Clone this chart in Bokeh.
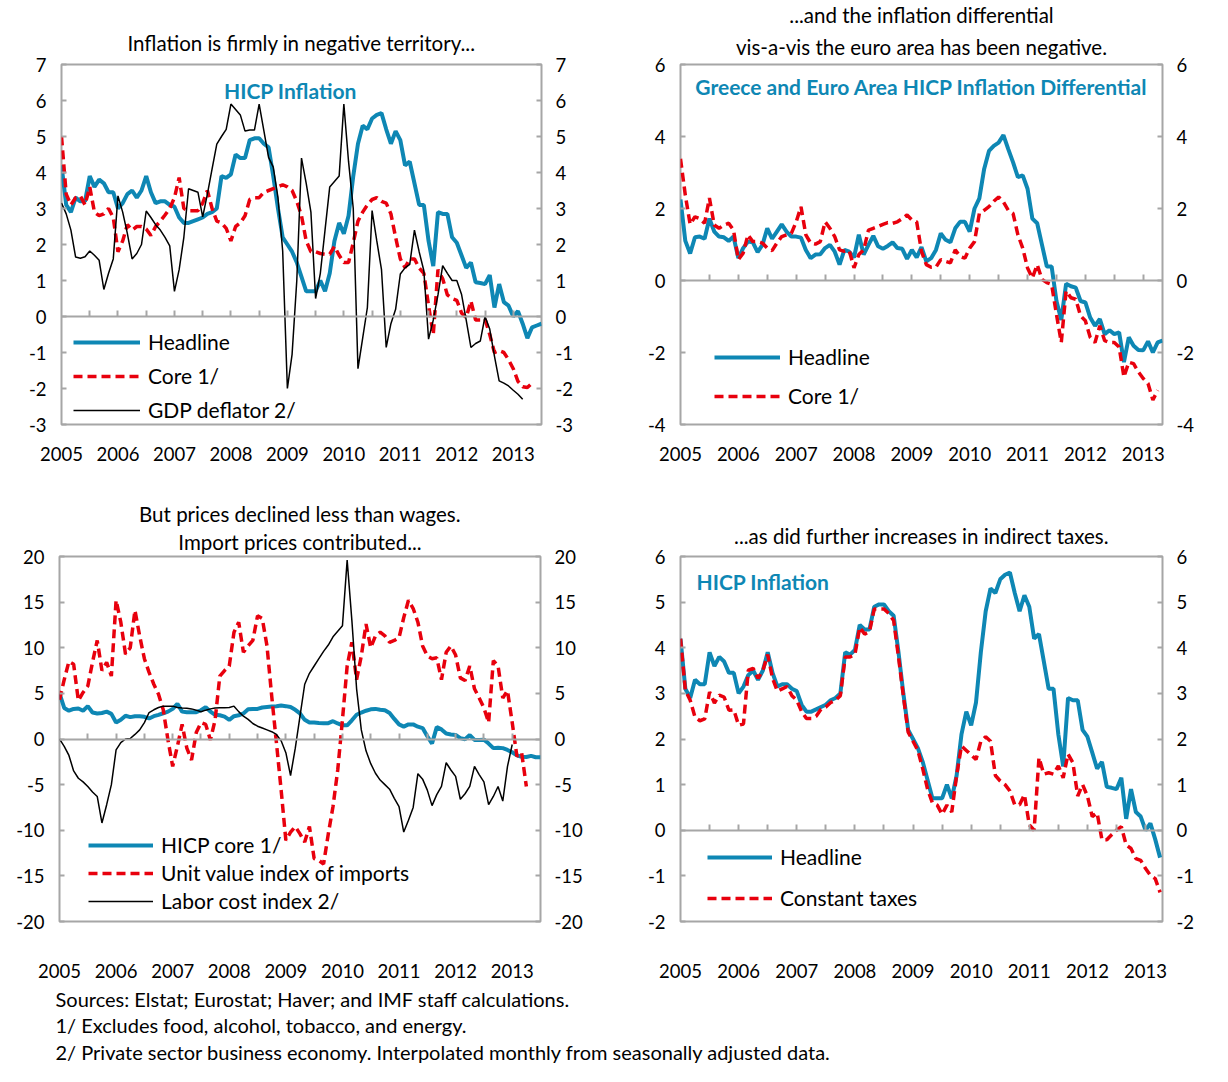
from bokeh.plotting import figure
from bokeh.models import Range1d, LinearAxis, FixedTicker, Title, Legend, LegendItem, Label
from bokeh.layouts import column, row
from bokeh.embed import file_html
from bokeh.resources import INLINE

FONT = "Lato"
TEAL = "#0e87b4"
RED = "#e8000d"
GRAY = "#a6a6a6"
TXT = "#000000"

# ---------------- data (monthly, Jan 2005 = month 0) ----------------
year_labels = ["2005", "2006", "2007", "2008", "2009", "2010", "2011", "2012", "2013"]
year_ticks = [0, 12, 24, 36, 48, 60, 72, 84, 96]
half_year_ticks = [6, 12, 18, 24, 30, 36, 42, 48, 54, 60, 66, 72, 78, 84, 90, 96]

headline = [4.2, 3.1, 2.9, 3.3, 3.2, 3.2, 3.9, 3.6, 3.8, 3.7, 3.45, 3.45,
            3.0, 3.15, 3.4, 3.5, 3.3, 3.5, 3.9, 3.45, 3.15, 3.2, 3.2, 3.1,
            3.05, 2.75, 2.6, 2.6, 2.65, 2.7, 2.75, 2.85, 2.9, 3.0, 3.9, 3.85,
            3.95, 4.5, 4.4, 4.4, 4.9, 4.95, 4.95, 4.8, 4.7, 3.9, 3.0, 2.2,
            2.0, 1.8, 1.5, 1.1, 0.7, 0.7, 0.7, 1.0, 0.7, 1.2, 2.1, 2.6,
            2.3, 2.8, 3.9, 4.8, 5.3, 5.2, 5.5, 5.6, 5.65, 5.2, 4.8, 5.15,
            4.9, 4.2, 4.3, 3.7, 3.1, 3.1, 2.1, 1.4, 2.9, 2.85, 2.85, 2.2,
            2.05, 1.7, 1.35, 1.5, 0.95, 0.93, 0.9, 1.15, 0.25, 0.9, 0.4, 0.3,
            0.0, 0.15, -0.2, -0.6, -0.3, -0.25, -0.2]

core = [5.0, 3.4, 3.1, 3.3, 3.35, 3.1, 3.6, 2.9, 2.8, 2.85, 3.0, 2.75,
        1.8, 2.1, 2.55, 2.4, 2.5, 2.5, 2.43, 2.25, 2.5, 2.65, 2.82, 3.0,
        3.3, 3.86, 3.0, 2.94, 2.94, 2.94, 3.15, 3.5, 3.0, 2.65, 2.6, 2.45,
        2.1, 2.5, 2.6, 2.8, 3.25, 3.3, 3.3, 3.45, 3.5, 3.55, 3.6, 3.66,
        3.6, 3.5, 3.2, 2.8, 2.1, 1.8, 1.8, 1.75, 1.73, 1.73, 1.95, 1.7,
        1.5, 1.5, 2.05, 2.65, 2.9, 3.1, 3.25, 3.3, 3.2, 3.15, 2.85, 2.2,
        1.6, 1.36, 1.6, 1.6, 1.35, 1.2, 0.3, -0.5, 1.3, 1.05, 0.6, 0.5,
        0.45, 0.1, -0.03, 0.43, -0.1, -0.1, -0.07, -0.5, -1.0, -0.95, -1.0, -1.2,
        -1.45, -1.8, -1.95, -1.97, -1.85, -2.0, -2.0]

gdp_deflator = [3.15, 2.85, 2.4, 1.65, 1.62, 1.66, 1.82, 1.7, 1.56, 0.75, 1.2, 1.6,
                3.35, 2.9, 2.3, 1.6, 1.75, 2.0, 2.93, 2.75, 2.55, 2.4, 2.2, 1.96,
                0.7, 1.3, 2.2, 3.55, 3.5, 3.45, 2.77, 3.4, 4.1, 4.79, 5.0, 5.2,
                5.9, 5.75, 5.6, 5.15, 5.18, 5.18, 5.9, 5.16, 4.42, 4.15, 3.3, 1.82,
                -2.0, -1.05, 1.0, 4.4, 3.7, 2.9, 0.5, 1.2, 2.4, 3.6, 3.75, 3.9,
                5.9, 4.3, 3.0, -1.45, -0.6, 0.25, 2.94, 2.1, 1.3, -0.86, -0.2, 0.2,
                1.18, 1.35, 1.45, 2.4, 1.8, 1.27, -0.63, -0.1, 0.6, 1.41, 1.2, 1.0,
                1.0, 0.62, -0.1, -0.86, -0.75, -0.68, 0.0, -0.35, -1.1, -1.79, -1.85, -1.93,
                -2.05, -2.16, -2.3]

diff_headline = [2.25, 1.1, 0.75, 1.2, 1.22, 1.16, 1.72, 1.36, 1.22, 1.2, 1.1, 1.22,
                 0.62, 0.9, 1.08, 1.06, 0.79, 0.99, 1.45, 1.16, 1.36, 1.56, 1.36, 1.22,
                 1.22, 1.19, 0.85, 0.62, 0.72, 0.73, 0.9, 0.99, 0.8, 0.44, 0.85, 0.8,
                 0.64, 1.27, 0.72, 0.99, 1.24, 0.95, 0.88, 0.96, 1.06, 0.9, 0.88, 0.6,
                 0.85, 0.64, 0.93, 0.53, 0.62, 0.85, 1.31, 1.13, 1.06, 1.45, 1.63, 1.63,
                 1.36, 2.0, 2.28, 3.1, 3.6, 3.74, 3.83, 4.04, 3.65, 3.28, 2.87, 2.92,
                 2.55, 1.72, 1.59, 0.99, 0.39, 0.39, -0.57, -1.1, -0.09, -0.16, -0.2, -0.57,
                 -0.61, -1.03, -1.26, -1.07, -1.49, -1.38, -1.49, -1.44, -2.27, -1.58, -1.81, -1.93,
                 -1.94, -1.69, -2.0, -1.72, -1.67]

diff_core = [3.38, 2.37, 1.56, 1.77, 1.72, 1.59, 2.29, 1.54, 1.45, 1.54, 1.59, 1.4,
             0.58, 0.76, 1.27, 1.08, 1.08, 1.04, 0.9, 0.83, 1.04, 1.22, 1.27, 1.31,
             1.63, 2.05, 1.27, 1.04, 1.01, 1.08, 1.63, 1.45, 1.22, 0.85, 0.81, 0.83,
             0.35, 0.72, 0.85, 1.4, 1.45, 1.5, 1.56, 1.61, 1.59, 1.63, 1.72, 1.82,
             1.68, 1.63, 0.81, 0.44, 0.37, 0.37, 0.58, 0.53, 0.49, 0.85, 0.67, 0.62,
             0.9, 1.08, 1.86, 1.95, 2.05, 2.2, 2.32, 2.18, 1.95, 1.86, 1.27, 0.9,
             0.35, 0.07, 0.44, 0.03, -0.06, -0.11, -0.94, -1.72, -0.29, -0.48, -0.52, -0.98,
             -1.12, -1.58, -1.72, -1.26, -1.67, -1.72, -1.72, -1.85, -2.68, -2.27, -2.31, -2.54,
             -2.72, -2.86, -3.32, -3.05]

unit_value_imports = [4.3, 6.5, 8.5, 8.2, 4.2, 5.1, 5.8, 8.4, 10.8, 7.5, 8.4, 6.9,
                      15.2, 12.8, 9.3, 10.0, 14.1, 11.3, 8.8, 7.3, 6.0, 4.9, 3.2, -0.1,
                      -3.0, -0.8, 1.6, -1.0, -2.3, 0.7, 1.8, 1.6, -0.1, 2.1, 6.9, 7.5,
                      8.0, 11.7, 12.8, 9.5, 10.2, 10.8, 13.5, 13.2, 10.2, 4.7, -0.4, -5.6,
                      -11.1, -10.2, -9.6, -10.4, -11.3, -9.6, -13.1, -13.3, -13.7, -10.4, -7.4, -3.4,
                      2.1, 8.0, 10.6, 6.5, 9.1, 12.6, 10.0, 11.3, 11.7, 11.3, 10.6, 10.8,
                      11.1, 13.3, 15.2, 14.3, 12.8, 10.2, 9.1, 8.8, 8.9, 6.5, 9.5, 10.2,
                      9.2, 6.7, 6.4, 8.0, 5.5, 4.5, 3.4, 1.8, 8.6, 8.0, 4.5, 5.3,
                      1.8, -1.9, -1.5, -5.2]

labor_cost = [0.0, -0.8, -1.8, -3.5, -4.3, -4.7, -5.2, -5.8, -6.3, -9.2, -7.2, -5.0,
              -1.2, -0.4, 0.0, 0.05, 0.5, 1.0, 1.8, 2.9, 3.2, 3.45, 3.6, 3.6,
              3.6, 3.45, 3.4, 3.38, 3.3, 3.16, 2.98, 3.16, 3.3, 3.4, 3.42, 3.42,
              3.45, 3.6, 3.0, 2.5, 2.15, 1.7, 1.4, 1.2, 1.0, 0.8, 0.5, -0.2,
              -1.5, -4.0, -1.0, 2.5, 6.0, 7.2, 8.0, 8.8, 9.6, 10.3, 11.2, 11.8,
              12.4, 19.6, 13.0, 5.5, 1.0, -1.3, -2.7, -3.75, -4.5, -5.0, -5.5, -6.5,
              -7.4, -10.2, -8.9, -7.5, -3.8, -4.4, -5.6, -7.3, -6.1, -5.2, -2.6, -3.4,
              -4.1, -6.6, -6.0, -5.2, -3.0, -3.9, -4.7, -7.2, -6.3, -5.2, -6.8, -3.0,
              -0.6]

constant_taxes = [4.2, 3.07, 2.85, 2.48, 2.4, 2.44, 3.03, 2.79, 2.96, 2.92, 2.63, 2.64,
                  2.3, 2.33, 3.51, 3.55, 3.33, 3.5, 3.85, 3.33, 3.05, 3.1, 3.15, 2.95,
                  2.85, 2.6, 2.45, 2.45, 2.5, 2.65, 2.7, 2.8, 2.85, 2.95, 3.8, 3.8,
                  3.85, 4.45, 4.3, 4.35, 4.85, 4.85, 4.85, 4.75, 4.6, 3.8, 2.95, 2.15,
                  1.95, 1.75, 1.35, 0.9, 0.6, 0.55, 0.35, 0.55, 0.4, 1.2, 1.85, 1.75,
                  1.65, 1.55, 1.95, 2.05, 1.95, 1.2, 1.08, 1.0, 0.86, 0.56, 0.56, 0.78,
                  0.12, 0.0, 1.59, 1.23, 1.26, 1.23, 1.41, 1.15, 1.67, 1.48, 0.75, 1.0,
                  0.75, 0.3, 0.38, -0.21, -0.21, -0.1, 0.0, 0.08, -0.32, -0.4, -0.62, -0.66,
                  -0.84, -0.99, -1.06, -1.36]

p1_yticks = [-3, -2, -1, 0, 1, 2, 3, 4, 5, 6, 7]
p2_yticks = [-4, -2, 0, 2, 4, 6]
p3_yticks = [-20, -15, -10, -5, 0, 5, 10, 15, 20]
p4_yticks = [-2, -1, 0, 1, 2, 3, 4, 5, 6]

footer_lines = ["Sources: Elstat; Eurostat; Haver; and IMF staff calculations.",
                "1/ Excludes food, alcohol, tobacco, and energy.",
                "2/ Private sector business economy. Interpolated monthly from seasonally adjusted data."]


def months(series):
    return list(range(len(series)))


def base_fig(width, height, bl, br, bt, bb, x_end, y_ticks, x_standoff):
    p = figure(width=width, height=height,
               x_range=Range1d(0, x_end), y_range=Range1d(y_ticks[0], y_ticks[-1]),
               output_backend="svg", toolbar_location=None, title=None,
               x_axis_location=None, y_axis_location=None,
               min_border_left=bl, min_border_right=br,
               min_border_top=bt, min_border_bottom=bb)
    p.grid.visible = False
    p.outline_line_color = GRAY
    p.outline_line_width = 2
    p.background_fill_color = "white"
    p.border_fill_color = "white"
    labels = {t: str(t) for t in y_ticks}
    for side, so in (("left", 15), ("right", 14)):
        ax = LinearAxis(ticker=FixedTicker(ticks=y_ticks), major_label_overrides=labels,
                        axis_line_color=None, major_tick_in=5, major_tick_out=0,
                        major_tick_line_color=GRAY, major_tick_line_width=2,
                        minor_tick_line_color=None, major_label_standoff=so,
                        major_label_text_font=FONT, major_label_text_font_size="18.5px",
                        major_label_text_color=TXT)
        p.add_layout(ax, side)
    xb = LinearAxis(ticker=FixedTicker(ticks=year_ticks),
                    major_label_overrides=dict(zip(year_ticks, year_labels)),
                    axis_line_color=None, major_tick_line_color=None, minor_tick_line_color=None,
                    major_label_standoff=x_standoff, major_label_text_font=FONT,
                    major_label_text_font_size="18.5px", major_label_text_color=TXT)
    p.add_layout(xb, "below")
    xz = LinearAxis(fixed_location=0, ticker=FixedTicker(ticks=half_year_ticks),
                    major_label_overrides={t: "" for t in half_year_ticks},
                    axis_line_color=GRAY, axis_line_width=2,
                    major_tick_in=6, major_tick_out=0,
                    major_tick_line_color=GRAY, major_tick_line_width=2,
                    minor_tick_line_color=None)
    p.add_layout(xz, "below")
    return p


def add_titles(p, lines, standoffs, offset):
    # lines listed top to bottom; add from the bottom (closest to frame) upward
    for text, so in zip(reversed(lines), reversed(standoffs)):
        p.add_layout(Title(text=text, align="center", text_font=FONT, text_font_size="20.5px",
                           text_font_style="normal", text_color=TXT, standoff=so, offset=offset),
                     "above")


def add_legend(p, items, loc, glyph_w, spacing):
    leg = Legend(items=[LegendItem(label=l, renderers=[r]) for l, r in items],
                 location=loc, orientation="vertical",
                 glyph_width=glyph_w, glyph_height=20, label_height=20,
                 label_standoff=8, spacing=spacing, padding=0, margin=0,
                 label_text_font=FONT, label_text_font_size="21px", label_text_color=TXT,
                 background_fill_alpha=0, border_line_color=None)
    p.add_layout(leg)


def inner_title(p, text, x, y, align):
    p.add_layout(Label(x=x, y=y, x_units="screen", y_units="screen", text=text,
                       text_align=align, text_baseline="middle", text_font=FONT,
                       text_font_style="bold", text_font_size="21px", text_color=TEAL))


# ---------------- panel 1 ----------------
p1 = base_fig(610, 480, 61, 69, 64, 56, 102, p1_yticks, 16)
add_titles(p1, ["Inflation is firmly in negative territory..."], [20], -5)
r11 = p1.line(months(headline), headline, line_color=TEAL, line_width=4)
core_p1 = core[:101]
r12 = p1.line(months(core_p1), core_p1, line_color=RED, line_width=3.5, line_dash="9 5")
r13 = p1.line(months(gdp_deflator), gdp_deflator, line_color="black", line_width=1.5)
add_legend(p1, [("Headline", r11), ("Core 1/", r12), ("GDP deflator 2/", r13)], (12, 2), 67, 9)
inner_title(p1, "HICP Inflation", 229, 334, "center")

# ---------------- panel 2 ----------------
p2 = base_fig(616, 480, 70, 64, 63, 55, 100, p2_yticks, 16)
add_titles(p2, ["...and the inflation differential",
                "vis-a-vis the euro area has been negative."], [0, 12], 2)
r21 = p2.line(months(diff_headline), diff_headline, line_color=TEAL, line_width=4)
r22 = p2.line(months(diff_core), diff_core, line_color=RED, line_width=3.5, line_dash="9 5")
add_legend(p2, [("Headline", r21), ("Core 1/", r22)], (34, 16), 66, 14)
inner_title(p2, "Greece and Euro Area HICP Inflation Differential", 241, 338, "center")

# ---------------- panel 3 ----------------
p3 = base_fig(610, 505, 59, 70, 76, 63, 102, p3_yticks, 36)
add_titles(p3, ["But prices declined less than wages.", "Import prices contributed..."], [0, 5], 11)
r31 = p3.line(months(core), core, line_color=TEAL, line_width=4)
r32 = p3.line(months(unit_value_imports), unit_value_imports, line_color=RED, line_width=3.5,
              line_dash="9 5")
r33 = p3.line(months(labor_cost), labor_cost, line_color="black", line_width=1.5)
add_legend(p3, [("HICP core 1/", r31), ("Unit value index of imports", r32),
                ("Labor cost index 2/", r33)], (29, 8), 65, 3)

# ---------------- panel 4 ----------------
p4 = base_fig(616, 505, 70, 64, 76, 64, 99.5, p4_yticks, 36)
add_titles(p4, ["...as did further increases in indirect taxes."], [17], 6)
headline_p4 = headline[:100]
r41 = p4.line(months(headline_p4), headline_p4, line_color=TEAL, line_width=4)
r42 = p4.line(months(constant_taxes), constant_taxes, line_color=RED, line_width=3.5, line_dash="9 5")
add_legend(p4, [("Headline", r41), ("Constant taxes", r42)], (27, 11), 65, 16)
inner_title(p4, "HICP Inflation", 16, 340, "left")

# ---------------- footer ----------------
p5 = figure(width=1226, height=90, x_range=Range1d(0, 1226), y_range=Range1d(0, 90),
            output_backend="svg", toolbar_location=None, title=None,
            x_axis_location=None, y_axis_location=None, min_border=0)
p5.grid.visible = False
p5.outline_line_color = None
for line_text, yy in zip(footer_lines, [77, 51, 24]):
    p5.add_layout(Label(x=55, y=yy, text=line_text, text_baseline="middle", text_align="left",
                        text_font=FONT, text_font_size="20px", text_color=TXT))

layout = column(row(p1, p2), row(p3, p4), p5)
open("out.html", "w").write(file_html(layout, INLINE))
